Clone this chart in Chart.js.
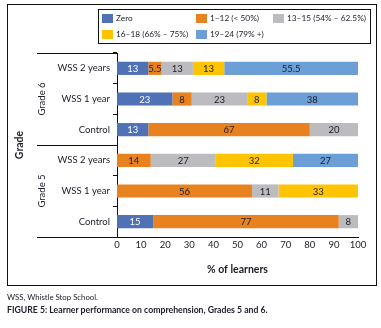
<!DOCTYPE html>
<html>
<head>
<meta charset="utf-8">
<script src="https://cdn.jsdelivr.net/npm/chart.js@4"></script>
<style>
  html, body { margin: 0; padding: 0; background: #fff; }
  #wrap { position: relative; width: 381px; height: 328px; }
  .note { position: absolute; left: 7px; font-family: Lato, sans-serif; color: #1c1c28; }
</style>
</head>
<body>
<div id="wrap">
  <canvas id="perfChart" width="381" height="328"></canvas>
  <div class="note" style="top:292px; font-size:7.8px;">WSS, Whistle Stop School.</div>
  <div class="note" style="top:304px; font-size:8.7px; font-weight:bold;">FIGURE 5: Learner performance on comprehension, Grades 5 and 6.</div>
</div>
<script>
// categories, top to bottom
const categories = ['WSS 2 years', 'WSS 1 year', 'Control', 'WSS 2 years', 'WSS 1 year', 'Control'];
const grades = ['Grade 6', 'Grade 5'];
const scoreBands = ['Zero', '1–12 (< 50%)', '13–15 (54% – 62.5%)', '16–18 (66% – 75%)', '19–24 (79% +)'];

// % of learners per score band
const zeroPct   = [13, 23, 13, 0, 0, 15];
const lowPct    = [5.5, 8, 67, 14, 56, 77];
const midPct    = [13, 23, 20, 27, 11, 8];
const highPct   = [13, 8, 0, 32, 33, 0];
const topPct    = [55.5, 38, 0, 27, 0, 0];

const xTicks = [0, 10, 20, 30, 40, 50, 60, 70, 80, 90, 100];

const bandColors = ['#4f71b5', '#e8821f', '#bcbcc0', '#ffc400', '#6c9fd6'];
const FONT = 'Lato, sans-serif';
const INK = '#1c1c28';

const seriesData = [zeroPct, lowPct, midPct, highPct, topPct];

// labels in the middle of each segment
const segmentLabels = {
    id: 'segmentLabels',
    afterDatasetsDraw(chart) {
        const ctx = chart.ctx;
        ctx.save();
        ctx.font = '9.5px ' + FONT;
        ctx.textAlign = 'center';
        ctx.textBaseline = 'middle';
        chart.data.datasets.forEach((ds, i) => {
            chart.getDatasetMeta(i).data.forEach((bar, j) => {
                const v = ds.data[j];
                if (!v) return;
                const cx = (bar.x + bar.base) / 2;
                ctx.fillStyle = i === 0 ? '#ffffff' : INK;
                ctx.fillText(String(v), cx, bar.y + 0.5);
            });
        });
        ctx.restore();
    }
};

// frame, legend box, grade brackets and titles
const decorations = {
    id: 'decorations',
    afterDraw(chart) {
        const ctx = chart.ctx;
        const y = chart.scales.y;
        const x = chart.scales.x;
        ctx.save();
        ctx.strokeStyle = '#111';
        ctx.lineWidth = 1;

        // outer frame
        ctx.strokeRect(7.5, 4.5, 369, 281);

        // legend box
        ctx.strokeRect(98.5, 9.5, 272, 34);
        ctx.font = '8.3px ' + FONT;
        ctx.textBaseline = 'middle';
        ctx.textAlign = 'left';
        const spots = [[102, 18], [196, 18], [273, 18], [102, 34], [196, 34]];
        chart.data.datasets.forEach((ds, i) => {
            const [lx, ly] = spots[i];
            ctx.fillStyle = ds.backgroundColor;
            ctx.fillRect(lx, ly - 4, 11, 9);
            ctx.fillStyle = INK;
            ctx.fillText(ds.label, lx + 14, ly + 0.5);
        });

        // group brackets on the category axis
        const half = (y.getPixelForValue(1) - y.getPixelForValue(0)) / 2;
        const top = y.getPixelForValue(0) - half;
        const mid = y.getPixelForValue(3) - half;
        const bot = y.getPixelForValue(5) + half;
        ctx.beginPath();
        [top, mid].forEach(py => {
            ctx.moveTo(37, Math.round(py) + 0.5);
            ctx.lineTo(x.left, Math.round(py) + 0.5);
        });
        ctx.moveTo(37, Math.round(bot) + 0.5);
        ctx.lineTo(x.right, Math.round(bot) + 0.5);
        ctx.stroke();

        // grade labels
        ctx.fillStyle = INK;
        ctx.textAlign = 'center';
        ctx.font = '9.5px ' + FONT;
        [[top, mid, grades[0]], [mid, bot, grades[1]]].forEach(([a, b, t]) => {
            ctx.save();
            ctx.translate(42, (a + b) / 2);
            ctx.rotate(-Math.PI / 2);
            ctx.fillText(t, 0, 0);
            ctx.restore();
        });
        ctx.save();
        ctx.font = 'bold 10.5px ' + FONT;
        ctx.translate(20, (top + bot) / 2);
        ctx.rotate(-Math.PI / 2);
        ctx.fillText('Grade', 0, 0);
        ctx.restore();

        ctx.restore();
    }
};

const perfChart = new Chart(document.getElementById('perfChart'), {
    type: 'bar',
    data: {
        labels: categories,
        datasets: scoreBands.map((name, i) => ({
            label: name,
            data: seriesData[i],
            backgroundColor: bandColors[i],
            borderWidth: 0,
            barPercentage: 0.43,
            categoryPercentage: 1
        }))
    },
    options: {
        indexAxis: 'y',
        responsive: false,
        animation: false,
        layout: { padding: { left: 0, right: 23, top: 53, bottom: 48 } },
        plugins: {
            legend: { display: false },
            tooltip: { enabled: false }
        },
        scales: {
            x: {
                stacked: true,
                min: 0,
                max: 100,
                afterBuildTicks: (scale) => { scale.ticks = xTicks.map(v => ({ value: v })); },
                afterFit: (scale) => { scale.height = 43; },
                grid: { display: false, drawTicks: false },
                border: { display: true, color: '#111', width: 1 },
                ticks: { font: { family: FONT, size: 9.5 }, color: INK, padding: 2, maxRotation: 0 },
                title: {
                    display: true,
                    text: '% of learners',
                    font: { family: FONT, size: 10.5, weight: 'bold' },
                    color: INK,
                    padding: { top: 11 }
                }
            },
            y: {
                stacked: true,
                afterFit: (scale) => { scale.width = 117; },
                grid: { display: true, drawOnChartArea: false, offset: true, tickLength: 4, color: '#111' },
                border: { display: true, color: '#111', width: 1 },
                ticks: { font: { family: FONT, size: 9.5 }, color: INK, padding: 3 }
            }
        }
    },
    plugins: [segmentLabels, decorations]
});
</script>
</body>
</html>
